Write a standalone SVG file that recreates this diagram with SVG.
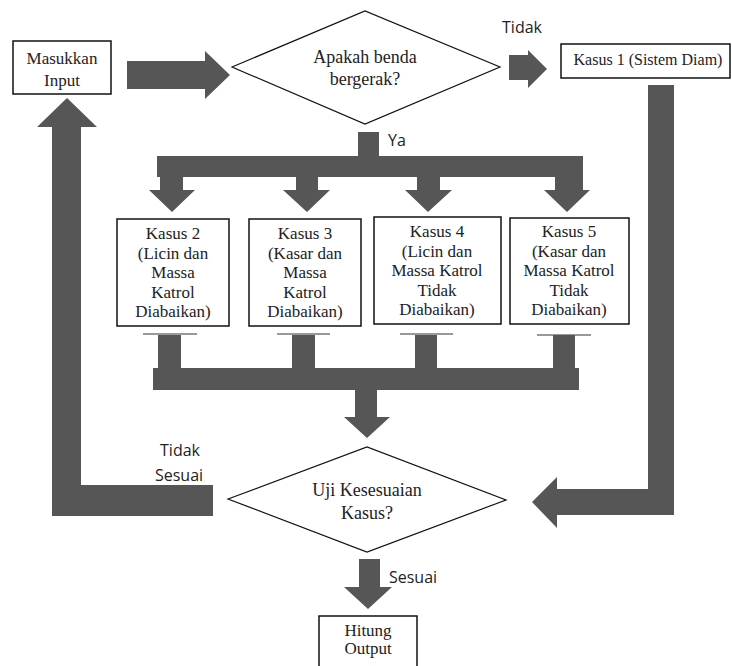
<svg xmlns="http://www.w3.org/2000/svg" width="732" height="666" viewBox="0 0 732 666">
<style>
.box{fill:#fff;stroke:#111;stroke-width:1.5}
.dia{fill:#fff;stroke:#111;stroke-width:1.2}
.t{font-family:"Liberation Serif","Times New Roman",serif;font-size:17px;fill:#222;text-anchor:middle}
.d{font-size:18px}
.k1{font-size:16px}
.l{font-family:"Open Sans","DejaVu Sans",sans-serif;font-size:16px;fill:#222;text-anchor:middle}
.bar{fill:#565656}
.tick{stroke:#777;stroke-width:1.5}
</style>
<rect width="732" height="666" fill="#fff"/>
<g id="connectors">
  <!-- input -> decision 1 -->
  <path class="bar" d="M127 61H205V51L230 75L205 99V89H127Z"/>
  <!-- Tidak -> Kasus 1 -->
  <path class="bar" d="M509 55H528V50L547 69L528 88V80H509Z"/>
  <!-- Ya branch -->
  <path class="bar" d="M358 132H379V156H583V190H590L567 212L544 190H555V177H318V190H330L307 212L283 190H296V177H440V190H452L428 212L405 190H417V177H183V190H195L172 212L149 190H160V177H157V156H358Z"/>
  <!-- merge bars -->
  <line class="tick" x1="143" y1="334" x2="197" y2="334"/>
  <line class="tick" x1="277" y1="334" x2="330" y2="334"/>
  <line class="tick" x1="400" y1="334" x2="453" y2="334"/>
  <line class="tick" x1="537" y1="335" x2="591" y2="335"/>
  <path class="bar" d="M158 335H181V368H292V335H315V368H415V335H437V368H553V335H575V368H579V390H377V417H390L367 438L344 417H355V390H153V368H158Z"/>
  <!-- Kasus 1 -> Uji -->
  <path class="bar" d="M648 85H674V515H557V528L532 502L557 477V489H648Z"/>
  <!-- Tidak Sesuai loop back to input -->
  <path class="bar" d="M213 485V516H52V127H37L67 98L97 127H81V485Z"/>
  <!-- Sesuai -->
  <path class="bar" d="M359 559H380V587H392L368 609L344 587H359Z"/>
  <text class="l" x="522" y="33">Tidak</text>
  <text class="l" x="397" y="146">Ya</text>
  <text class="l" x="180" y="456">Tidak</text>
  <text class="l" x="179" y="481">Sesuai</text>
  <text class="l" x="413" y="583">Sesuai</text>
</g>
<g id="input">
  <rect class="box" x="13" y="41" width="98" height="53"/>
  <text class="t" x="62" y="64">Masukkan</text>
  <text class="t" x="62" y="86">Input</text>
</g>
<g id="decision1">
  <polygon class="dia" points="232,67 365,11 500,67 365,124"/>
  <text class="t d" x="365" y="63">Apakah benda</text>
  <text class="t d" x="365" y="85">bergerak?</text>
</g>
<g id="kasus1">
  <rect class="box" x="561" y="44" width="169" height="34"/>
  <text class="t k1" x="648" y="65">Kasus 1 (Sistem Diam)</text>
</g>
<g id="kasus2">
  <rect class="box" x="117" y="219" width="112" height="107"/>
  <text class="t" x="173" y="239">Kasus 2</text>
  <text class="t" x="173" y="259">(Licin dan</text>
  <text class="t" x="173" y="278">Massa</text>
  <text class="t" x="173" y="298">Katrol</text>
  <text class="t" x="173" y="317">Diabaikan)</text>
</g>
<g id="kasus3">
  <rect class="box" x="249" y="219" width="112" height="107"/>
  <text class="t" x="305" y="239">Kasus 3</text>
  <text class="t" x="305" y="259">(Kasar dan</text>
  <text class="t" x="305" y="278">Massa</text>
  <text class="t" x="305" y="298">Katrol</text>
  <text class="t" x="305" y="317">Diabaikan)</text>
</g>
<g id="kasus4">
  <rect class="box" x="374" y="217" width="127" height="107"/>
  <text class="t" x="437" y="237">Kasus 4</text>
  <text class="t" x="437" y="257">(Licin dan</text>
  <text class="t" x="437" y="276">Massa Katrol</text>
  <text class="t" x="437" y="296">Tidak</text>
  <text class="t" x="437" y="315">Diabaikan)</text>
</g>
<g id="kasus5">
  <rect class="box" x="510" y="218" width="119" height="106"/>
  <text class="t" x="569" y="237">Kasus 5</text>
  <text class="t" x="569" y="257">(Kasar dan</text>
  <text class="t" x="569" y="276">Massa Katrol</text>
  <text class="t" x="569" y="296">Tidak</text>
  <text class="t" x="569" y="315">Diabaikan)</text>
</g>
<g id="decision2">
  <polygon class="dia" points="228,499 367,447 506,500 367,552"/>
  <text class="t d" x="367" y="496">Uji Kesesuaian</text>
  <text class="t d" x="367" y="519">Kasus?</text>
</g>
<g id="output">
  <rect class="box" x="319" y="616" width="98" height="56"/>
  <text class="t" x="368" y="636">Hitung</text>
  <text class="t" x="368" y="654">Output</text>
</g>
</svg>
